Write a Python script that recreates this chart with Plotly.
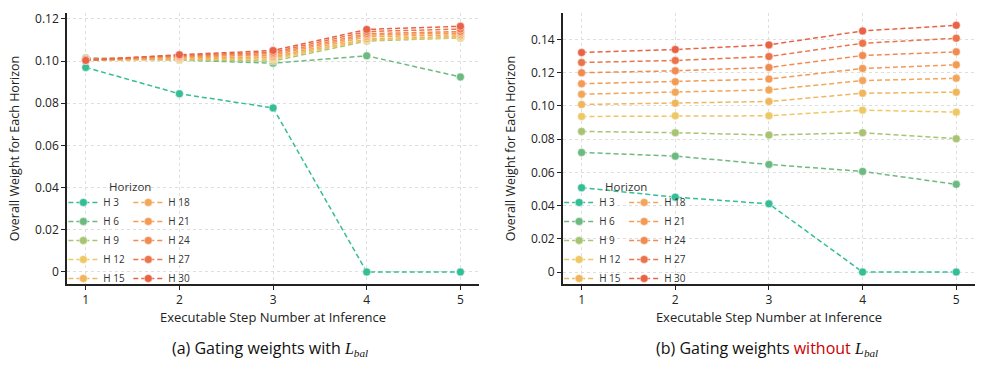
import plotly.graph_objects as go

steps = [1, 2, 3, 4, 5]
horizons = ["H 3", "H 6", "H 9", "H 12", "H 15", "H 18", "H 21", "H 24", "H 27", "H 30"]
colors = ["#35BE96", "#6DBA80", "#A8C472", "#EDC865", "#F0B65E",
          "#F2A65A", "#F39A55", "#F08B51", "#EC744B", "#E86345"]

# (a) with L_bal
with_bal = [
    [0.0970, 0.0845, 0.0778, 0.0000, 0.0000],
    [0.1015, 0.1005, 0.0990, 0.1025, 0.0925],
    [0.1012, 0.1005, 0.1000, 0.1095, 0.1110],
    [0.1005, 0.1008, 0.1008, 0.1100, 0.1112],
    [0.1003, 0.1010, 0.1015, 0.1105, 0.1118],
    [0.1003, 0.1015, 0.1020, 0.1115, 0.1125],
    [0.1005, 0.1020, 0.1028, 0.1123, 0.1133],
    [0.1007, 0.1023, 0.1035, 0.1130, 0.1140],
    [0.1008, 0.1027, 0.1042, 0.1140, 0.1152],
    [0.1003, 0.1030, 0.1050, 0.1150, 0.1165],
]

# (b) without L_bal
without_bal = [
    [0.0508, 0.0451, 0.0411, 0.0000, 0.0000],
    [0.0720, 0.0698, 0.0648, 0.0606, 0.0528],
    [0.0847, 0.0839, 0.0825, 0.0839, 0.0803],
    [0.0937, 0.0941, 0.0941, 0.0975, 0.0963],
    [0.1009, 0.1017, 0.1027, 0.1077, 0.1083],
    [0.1071, 0.1083, 0.1097, 0.1153, 0.1167],
    [0.1134, 0.1146, 0.1162, 0.1226, 0.1248],
    [0.1200, 0.1212, 0.1232, 0.1304, 0.1326],
    [0.1262, 0.1274, 0.1298, 0.1378, 0.1408],
    [0.1322, 0.1340, 0.1368, 0.1452, 0.1486],
]

yticks_a = [0, 0.02, 0.04, 0.06, 0.08, 0.10, 0.12]
yticks_b = [0, 0.02, 0.04, 0.06, 0.08, 0.10, 0.12, 0.14]
ytext_a = ["0", "0.02", "0.04", "0.06", "0.08", "0.10", "0.12"]
ytext_b = ["0", "0.02", "0.04", "0.06", "0.08", "0.10", "0.12", "0.14"]

FONT = "Open Sans"
fig = go.Figure()

for panel, data, xa, ya, legs in [
    (0, with_bal, "x", "y", ("legend", "legend2")),
    (1, without_bal, "x2", "y2", ("legend3", "legend4")),
]:
    for i, (name, vals) in enumerate(zip(horizons, data)):
        fig.add_trace(go.Scatter(
            x=steps, y=vals, name=name, mode="lines+markers",
            xaxis=xa, yaxis=ya,
            line=dict(color=colors[i], width=1.5, dash="5px,3px"),
            marker=dict(color=colors[i], size=8, line=dict(color="white", width=0.5)),
            legend=legs[0] if i < 5 else legs[1],
        ))

axis_common = dict(
    showline=True, linecolor="#222", linewidth=1.5, ticks="outside",
    ticklen=4, tickcolor="#222", tickwidth=1,
    showgrid=True, gridcolor="#dedede", griddash="dot", gridwidth=1,
    zeroline=False, tickfont=dict(size=12, color="#222", family=FONT),
    mirror=False, automargin=False,
)

xd1 = [0, 0.4539]
xd2 = [0.5461, 1]
fig.update_layout(
    width=987, height=368,
    margin=dict(l=66.7, r=12, t=13, b=84, autoexpand=False),
    paper_bgcolor="white", plot_bgcolor="white",
    font=dict(family=FONT, color="#222"),
    xaxis=dict(domain=xd1, range=[0.8, 5.2], tickvals=steps, anchor="y",
               title=dict(text="Executable Step Number at Inference", font=dict(size=13), standoff=1),
               **axis_common),
    yaxis=dict(domain=[0, 1], range=[-0.0057, 0.1228], tickvals=yticks_a, ticktext=ytext_a,
               anchor="x",
               title=dict(text="Overall Weight for Each Horizon", font=dict(size=12.5), standoff=13),
               **axis_common),
    xaxis2=dict(domain=xd2, range=[0.8, 5.2], tickvals=steps, anchor="y2",
                title=dict(text="Executable Step Number at Inference", font=dict(size=13), standoff=1),
                **axis_common),
    yaxis2=dict(domain=[0, 1], range=[-0.0072, 0.156], tickvals=yticks_b, ticktext=ytext_b,
                anchor="x2",
                title=dict(text="Overall Weight for Each Horizon", font=dict(size=12.5), standoff=13),
                **axis_common),
)

leg_common = dict(bgcolor="rgba(0,0,0,0)", font=dict(size=10, family=FONT, color="#333"),
                  yanchor="bottom", y=-0.033, xanchor="left", tracegroupgap=0)
fig.update_layout(
    legend=dict(x=-0.004, **leg_common),
    legend2=dict(x=0.0675, **leg_common),
    legend3=dict(x=0.5420, **leg_common),
    legend4=dict(x=0.6136, **leg_common),
)

math = "<span style='font-family:Liberation Serif'><i>L</i><sub><i>bal</i></sub></span>"
for cx in (130, 626):
    fig.add_annotation(text="Horizon", xref="paper", yref="paper", x=(cx - 66.7) / 908.3,
                       y=(284 - 186) / 271, showarrow=False,
                       font=dict(size=11.5, family=FONT, color="#333"),
                       xanchor="center", yanchor="middle")
fig.add_annotation(text="(a) Gating weights with " + math, xref="paper", yref="paper",
                   x=(270 - 66.7) / 908.3, y=(284 - 348) / 271, showarrow=False,
                   font=dict(size=16, family=FONT, color="#111"), xanchor="center", yanchor="middle")
fig.add_annotation(text="(b) Gating weights <span style='color:#cc0000'>without</span> " + math,
                   xref="paper", yref="paper",
                   x=(767 - 66.7) / 908.3, y=(284 - 348) / 271, showarrow=False,
                   font=dict(size=16, family=FONT, color="#111"), xanchor="center", yanchor="middle")

fig.write_html("out.html", config={"displayModeBar": False},
               post_script="document.body.style.margin='0px';")
